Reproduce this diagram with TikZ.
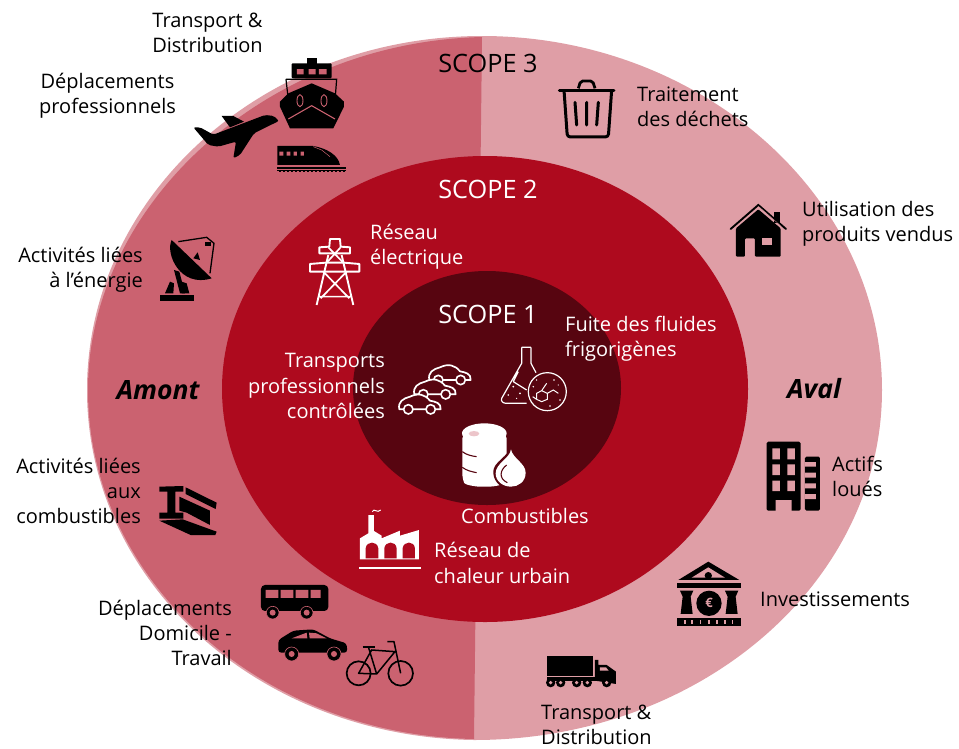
\documentclass[tikz,border=0pt]{standalone}
\usepackage{fontspec}
\setmainfont{Open Sans}
\definecolor{lightr}{HTML}{DF9EA6}
\definecolor{darkr}{HTML}{CB6270}
\definecolor{midr}{HTML}{AE0A1E}
\definecolor{innerr}{HTML}{570510}
\tikzset{
 lbl/.style={inner sep=0pt,font=\fontsize{20}{25.3}\selectfont},
 wht/.style={lbl,text=white},
 scp/.style={inner sep=0pt,font=\fontsize{25.3}{25.3}\selectfont},
 side/.style={inner sep=0pt,font=\fontsize{26.5}{26.5}\selectfont\bfseries\itshape},
 z1/.style={shift={(150,40)},x=0.3333pt,y=-0.3333pt},
 z2/.style={shift={(350,330)},x=0.3333pt,y=-0.3333pt},
 z3/.style={shift={(150,470)},x=0.3333pt,y=-0.3333pt},
 z4/.style={shift={(530,430)},x=0.3333pt,y=-0.3333pt},
 z5/.style={shift={(540,70)},x=0.3333pt,y=-0.3333pt},
}
\begin{document}
\begin{tikzpicture}[x=1pt,y=-1pt]
\useasboundingbox (0,0) rectangle (959,748);
% rings
\fill[lightr] (482,36) .. controls (700,36) and (882,195) .. (882,390) .. controls (882,583) and (700,740) .. (474,740) .. controls (260,737) and (87,583) .. (87,390) .. controls (87,195) and (264,36) .. (482,36) -- cycle;
\fill[darkr] (482,37) .. controls (265,42) and (88,205) .. (88,390) .. controls (88,580) and (260,735) .. (474,739) -- cycle;
\fill[midr] (485,389) ellipse [x radius=263,y radius=233];
\fill[innerr] (487,388) ellipse [x radius=134,y radius=117];
% ship
\begin{scope}[z1]
\fill (470,55) rectangle (502,72);
\fill[rounded corners=1pt] (425,70) rectangle (545,115);
\fill[darkr] (441,87) rectangle (461,103) (476,87) rectangle (497,103) (507,87) rectangle (530,103);
\draw[line width=1.2pt] (408,118) -- (560,118) -- (556,170) (408,118) -- (414,170);
\fill (485,130) -- (555,160) -- (582,185) -- (582,200) -- (550,265) -- (420,265) -- (390,200) -- (390,185) -- (415,160) -- cycle;
\draw[darkr,line width=1.1pt] (415,237) -- (485,197) -- (555,237);
\draw[darkr,line width=.9pt] (450,182) ellipse [x radius=9,y radius=18] (522,182) ellipse [x radius=9,y radius=18];
% plane
\fill[rounded corners=2pt] (130,262) -- (150,262) -- (190,284) -- (345,225) -- (372,228) -- (387,243) -- (360,256) -- (312,280) -- (270,345) -- (250,355) -- (258,305) -- (205,320) -- (175,315) -- cycle;
\fill (215,228) -- (250,228) -- (282,245) -- (240,262) -- cycle;
% train
\fill (382,318) -- (490,318) .. controls (530,325) and (565,345) .. (570,375) -- (382,375) -- cycle;
\fill[darkr] (388,335) rectangle (400,347) (410,335) rectangle (421,347) (431,335) rectangle (441,347) (452,335) rectangle (462,347);
\draw[darkr,line width=.5pt] (490,320) -- (515,330) -- (540,350);
\fill (380,381) rectangle (587,386);
\fill (380,390) rectangle (587,395);
\draw[darkr,line width=.6pt,dash pattern=on 2pt off 2pt] (380,392.5) -- (587,392.5);
% dish
\fill (65,600) .. controls (45,640) and (90,745) .. (185,715) -- cycle;
\draw[line width=1.3pt] (85,605) -- (170,592) -- (192,610) -- (180,700);
\fill (130,655) -- (143,637) -- (150,660) -- cycle;
\fill (165,605) rectangle (182,618);
\fill (72,690) -- (88,695) -- (105,760) -- (90,760) -- cycle;
\fill (60,725) -- (72,730) -- (70,760) -- (45,760) -- cycle;
\fill (95,725) -- (110,730) -- (118,760) -- (95,760) -- cycle;
\fill (30,765) rectangle (132,782);
% pylon
\draw[white,line width=1.9pt,line join=round] (540,597) -- (570,597) -- (572,620) -- (600,622) -- (600,640) -- (508,640) -- (508,622) -- (538,620) -- cycle;
\draw[white,line width=1.9pt,line join=round] (535,645) -- (500,795) (575,645) -- (610,795);
\draw[white,line width=1.9pt,line join=round] (528,668) -- (480,672) -- (480,695) -- (628,695) -- (628,672) -- (582,668) -- cycle;
\draw[white,line width=1.7pt] (535,622) -- (580,668) (572,622) -- (530,668) (520,695) -- (598,775) (590,695) -- (512,775) (507,770) -- (603,770);
\end{scope}
% cars, flask, barrel
\begin{scope}[z2]
\foreach \dx/\dy in {90/-88,45/-45,0/0}{
 \begin{scope}[shift={(\dx,\dy)}]
 \draw[white,line width=1.7pt,fill=innerr,line join=round] (148,238) .. controls (143,215) and (160,205) .. (180,200) .. controls (205,188) and (225,193) .. (240,212) .. controls (255,215) and (274,218) .. (272,238) -- cycle;
 \draw[white,line width=1.6pt,fill=innerr] (175,238) circle (14) (242,238) circle (14);
 \end{scope}}
\draw[white,line width=1.2pt,line join=round] (515,52) -- (543,52) (515,52) -- (515,100) -- (455,205) .. controls (452,215) and (460,220) .. (470,220) -- (530,220) (543,52) -- (543,100) -- (558,128) (490,155) -- (530,180) (505,125) -- (490,155);
\fill[white] (490,170) circle (3) (510,190) circle (3) (475,195) circle (2.5) (500,205) circle (2);
\draw[white,line width=1.2pt,fill=innerr] (592,185) circle (57);
\draw[white,line width=1pt] (575,182) -- (592,190) -- (592,208) -- (575,215) -- (560,208) -- (560,190) -- cycle (592,190) -- (610,180) -- (625,190) (575,182) -- (590,160) (560,208) -- (548,200);
\fill[white] (560,150) circle (2.5) (612,150) circle (2.5) (630,210) circle (2.5) (600,228) circle (2.5) (550,170) circle (2.5) (625,165) circle (2);
% barrel
\fill[white,rounded corners=5pt] (337,310) -- (337,445) .. controls (345,465) and (380,470) .. (403,470) .. controls (430,470) and (460,465) .. (470,445) -- (470,310) -- cycle;
\fill[white] (403,310) ellipse [x radius=67,y radius=30];
\fill[lightr!60!white] (372,311) ellipse [x radius=16,y radius=8];
\draw[innerr,line width=1.1pt] (337,365) .. controls (350,375) and (365,378) .. (380,380) (337,412) .. controls (350,422) and (365,425) .. (380,428);
\fill[innerr] (483,345) .. controls (480,380) and (425,395) .. (430,430) .. controls (432,460) and (460,478) .. (483,478) .. controls (510,478) and (535,455) .. (535,425) .. controls (535,395) and (490,380) .. (483,345);
\fill[white] (483,358) .. controls (480,385) and (437,400) .. (437,430) .. controls (437,455) and (460,470) .. (483,470) .. controls (505,470) and (527,455) .. (527,428) .. controls (527,400) and (488,385) .. (483,358);
\draw[innerr,line width=1.1pt] (470,405) .. controls (450,420) and (445,445) .. (472,458);
\end{scope}
% factory, bus, car, bike, beam
\begin{scope}[z3]
\fill[white] (630,268) -- (630,205) -- (655,190) -- (655,135) -- (672,135) -- (672,183) -- (695,197) -- (695,205) -- (750,182) -- (750,197) -- (807,180) -- (807,268) -- cycle;
\fill[midr] (647,265) -- (647,235) .. controls (650,212) and (682,212) .. (685,235) -- (685,265) -- cycle;
\fill[midr] (703,265) -- (703,235) .. controls (706,212) and (738,212) .. (740,235) -- (740,265) -- cycle;
\fill[midr] (758,265) -- (758,235) .. controls (761,212) and (793,212) .. (795,235) -- (795,265) -- cycle;
\fill[white] (627,292) rectangle (812,298);
\draw[white,line width=1pt] (667,125) .. controls (672,112) and (682,132) .. (692,120);
% bus
\fill[rounded corners=4pt] (333,345) rectangle (535,423);
\fill[darkr] (347,360) rectangle (385,384) (392,360) rectangle (430,384) (437,360) rectangle (475,384) (482,360) rectangle (512,384);
\fill[draw=darkr,line width=.6pt] (368,428) circle (19) (470,428) circle (19);
\fill[darkr] (368,428) circle (9) (470,428) circle (9);
% car
\fill[rounded corners=3pt] (385,548) -- (385,510) -- (430,482) -- (490,478) -- (540,505) -- (590,520) -- (592,548) -- cycle;
\fill[darkr] (425,505) -- (470,488) -- (472,505) -- cycle (477,488) -- (500,490) -- (530,505) -- (479,505) -- cycle;
\fill[draw=darkr,line width=.6pt] (425,552) circle (21) (552,552) circle (21);
\fill[darkr] (425,552) circle (9) (552,552) circle (9);
% bike
\draw[line width=1.7pt] (626,610) circle (36) (752,610) circle (37);
\draw[line width=1.5pt,line join=round] (626,610) -- (665,540) -- (735,545) -- (680,612) -- cycle (655,530) -- (680,612) (712,515) -- (732,515) -- (752,610);
\draw[line width=2pt] (638,530) -- (675,530);
% beam
\fill (28,50) -- (100,48) -- (100,65) -- (76,65) -- (76,128) -- (100,128) -- (100,146) -- (28,146) -- (28,128) -- (52,128) -- (52,65) -- (28,65) -- cycle;
\fill (107,52) -- (200,98) -- (197,117) -- (107,72) -- cycle;
\fill (88,80) -- (180,122) -- (180,165) -- (110,128) -- (88,122) -- cycle;
\fill (28,152) -- (98,148) -- (200,185) -- (196,195) -- (122,195) -- cycle;
\end{scope}
% building, bank, truck
\begin{scope}[z4]
\fill[rounded corners=1.5pt] (710,35) rectangle (812,242);
\fill[lightr] (727,55) rectangle (750,88) (772,55) rectangle (795,88) (727,103) rectangle (750,135) (772,103) rectangle (795,135) (727,152) rectangle (750,183) (772,152) rectangle (795,183) (737,210) rectangle (785,243);
\fill[rounded corners=1.5pt] (825,80) rectangle (870,242);
\fill[lightr] (824,96) rectangle (858,110) (824,128) rectangle (858,143) (824,160) rectangle (858,175) (824,192) rectangle (858,207);
% bank
\fill (445,450) -- (535,395) -- (628,450) -- cycle;
\fill[lightr] (485,443) -- (535,412) -- (585,443) -- cycle;
\fill (535,437) circle (11);
\fill (440,458) rectangle (633,473);
\fill (450,482) -- (490,482) -- (482,500) -- (488,552) -- (452,552) -- (458,500) -- cycle;
\fill (585,482) -- (625,482) -- (617,500) -- (623,552) -- (587,552) -- (593,500) -- cycle;
\fill (537,520) circle (38);
\node[text=lightr,inner sep=0pt,font=\fontsize{13}{13}\selectfont\bfseries] (eurosign) at (537,520) {€};
\fill (440,563) rectangle (633,588);
\foreach \t in {465,486,511,537,561,585,608}{\fill[lightr] (\t-2,570) rectangle (\t+2,582);}
% truck
\fill (50,677) rectangle (188,738);
\fill (50,741) rectangle (250,752);
\fill (195,690) -- (205,690) -- (205,705) -- (230,705) -- (258,725) -- (258,762) -- (195,752) -- cycle;
\fill[lightr] (210,712) -- (228,712) -- (236,722) -- (210,722) -- cycle;
\foreach \t in {62,92,140,172,230}{\fill (\t,758) circle (14); \fill[lightr] (\t,758) circle (5.5);}
\end{scope}
% trash, house
\begin{scope}[z5]
\draw[line width=3pt,line cap=round] (58,60) -- (222,60);
\draw[line width=2.8pt,line join=round,rounded corners=2pt] (115,55) -- (122,33) -- (158,33) -- (165,55);
\draw[line width=3pt,line join=round,rounded corners=3pt] (72,60) -- (82,201) -- (205,201) -- (215,60);
\draw[line width=3pt,line cap=round] (105,97) -- (110,165) (140,97) -- (140,165) (175,97) -- (170,165);
\draw[line width=1.9pt,line cap=round] (572,477) -- (655,405) -- (738,477);
\fill (703,425) rectangle (720,460);
\fill[lightr] (655,408) -- (703,450) -- (720,465) -- (725,470) -- (655,410) -- cycle;
\fill[rounded corners=1pt] (588,475) -- (655,418) -- (722,475) -- (722,560) -- (645,560) -- (645,505) -- (615,505) -- (615,560) -- (588,560) -- cycle;
\fill[lightr] (667,505) rectangle (695,525);
\end{scope}
% labels
\node[lbl,align=center] (t1) at (207.5,33) {Transport \&\\Distribution};
\node[lbl,align=center] (t2) at (107.5,95.5) {Déplacements\\professionnels};
\node[scp] (s3) at (488,63) {SCOPE 3};
\node[scp,text=white] (s2) at (488,189) {SCOPE 2};
\node[scp,text=white] (s1) at (488,314) {SCOPE 1};
\node[lbl,align=left,anchor=west] (t3) at (637,107) {Traitement\\des déchets};
\node[lbl,align=left,anchor=west] (t4) at (802,223.5) {Utilisation des\\produits vendus};
\node[wht,align=left,anchor=west] (t5) at (370,246.5) {Réseau\\électrique};
\node[lbl,align=right,anchor=east] (t6) at (143,269.5) {Activités liées\\à l’énergie};
\node[wht,align=left,anchor=west] (t7) at (565,339) {Fuite des fluides\\frigorigènes};
\node[wht,align=right,anchor=east] (t8) at (385,386) {Transports\\professionnels\\contrôlées};
\node[side] (am) at (158,390) {Amont};
\node[side] (av) at (814,389) {Aval};
\node[lbl,align=right,anchor=east] (t9) at (141,491) {Activités liées\\aux\\combustibles};
\node[lbl,align=left,anchor=west] (t10) at (832,476.5) {Actifs\\loués};
\node[wht,anchor=west] (t11) at (461,516) {Combustibles};
\node[wht,align=left,anchor=west] (t12) at (434,563) {Réseau de\\chaleur urbain};
\node[lbl,anchor=west] (t13) at (760,599) {Investissements};
\node[lbl,align=right,anchor=east] (t14) at (232,633) {Déplacements\\Domicile -\\Travail};
\node[lbl,align=left,anchor=west] (t15) at (541,725) {Transport \&\\Distribution};
\end{tikzpicture}
\end{document}
